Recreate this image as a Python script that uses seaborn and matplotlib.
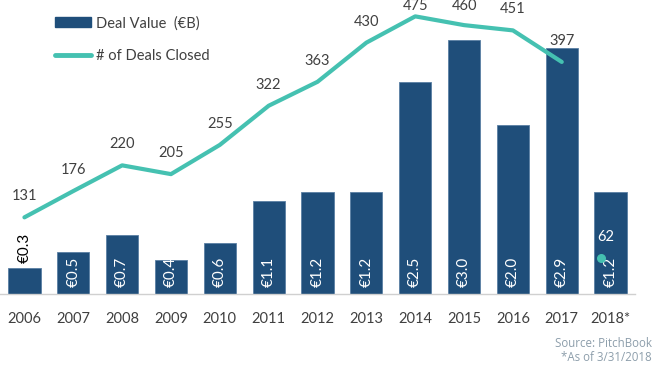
import matplotlib
matplotlib.use("Agg")
import matplotlib.pyplot as plt
import seaborn as sns
import pandas as pd
from matplotlib.lines import Line2D
from matplotlib.patches import Patch

# chart data
years = ["2006", "2007", "2008", "2009", "2010", "2011", "2012",
         "2013", "2014", "2015", "2016", "2017", "2018*"]
deal_value = [0.3, 0.5, 0.7, 0.4, 0.6, 1.1, 1.2, 1.2, 2.5, 3.0, 2.0, 2.9, 1.2]
deal_labels = ["€0.3", "€0.5", "€0.7", "€0.4", "€0.6", "€1.1", "€1.2",
               "€1.2", "€2.5", "€3.0", "€2.0", "€2.9", "€1.2"]
deals_closed = [131, 176, 220, 205, 255, 322, 363, 430, 475, 460, 451, 397]
deals_2018 = 62

bar_color = "#1f4e7a"
line_color = "#45c1b1"
text_color = "#404040"

sns.set_style("white")
plt.rcParams["font.family"] = ["Lato", "DejaVu Sans"]

df = pd.DataFrame({"year": years, "value": deal_value})

fig = plt.figure(figsize=(6.54, 3.66), dpi=100)
ax = fig.add_axes([0.0, 0.197, 0.971, 0.803])

sns.barplot(data=df, x="year", y="value", color=bar_color, width=0.66,
            saturation=1, edgecolor="#5a7fa3", linewidth=0.6, ax=ax)
ax.set_ylim(0, 3.47)
ax.set_xlim(-0.5, 12.5)

# value labels inside bars (small bar gets its label on top)
for i, (v, lab) in enumerate(zip(deal_value, deal_labels)):
    if v < 0.35:
        ax.text(i, v + 0.06, lab, rotation=90, ha="center", va="bottom",
                color="black", fontsize=11)
    else:
        ax.text(i, 0.26, lab, rotation=90, ha="center", va="center",
                color="white", fontsize=11)

# deals closed line on second axis
ax2 = ax.twinx()
ax2.set_ylim(0, 503)
xs = list(range(len(deals_closed)))
sns.lineplot(x=xs, y=deals_closed, color=line_color, linewidth=3,
             ax=ax2, legend=False)
for x, n in zip(xs, deals_closed):
    ax2.text(x, min(n + 36, 493), str(n), ha="center", va="center",
             color=text_color, fontsize=10.5, clip_on=False)

ax2.scatter([11.8], [deals_2018], color=line_color, s=30, zorder=5)
ax2.text(11.9, deals_2018 + 36, str(deals_2018), ha="center", va="center",
         color="white", fontsize=10.5)

for a in (ax, ax2):
    a.set_yticks([])
    a.set_ylabel("")
    for s in ("top", "left", "right"):
        a.spines[s].set_visible(False)
ax2.spines["bottom"].set_visible(False)
ax.spines["bottom"].set_color("#d0d0d0")
ax.spines["bottom"].set_linewidth(1)
ax.set_xlabel("")
ax.tick_params(axis="x", length=0, pad=13, labelsize=10.5, labelcolor=text_color)

handles = [Patch(facecolor=bar_color, edgecolor=bar_color),
           Line2D([0], [0], color=line_color, linewidth=3.5)]
ax.legend(handles, ["Deal Value  (€B)", "# of Deals Closed"],
          loc="upper left", bbox_to_anchor=(0.066, 0.99), frameon=False,
          fontsize=10.5, labelspacing=1.3, handlelength=2.5,
          handletextpad=0.3, labelcolor=text_color)

fig.text(0.997, 0.062, "Source: PitchBook", ha="right", va="center",
         fontsize=8.3, color="#8d9eab", family=["Open Sans", "DejaVu Sans"])
fig.text(0.997, 0.022, "*As of 3/31/2018", ha="right", va="center",
         fontsize=8.3, color="#8d9eab", family=["Open Sans", "DejaVu Sans"])

fig.savefig("out.png", dpi=100)
